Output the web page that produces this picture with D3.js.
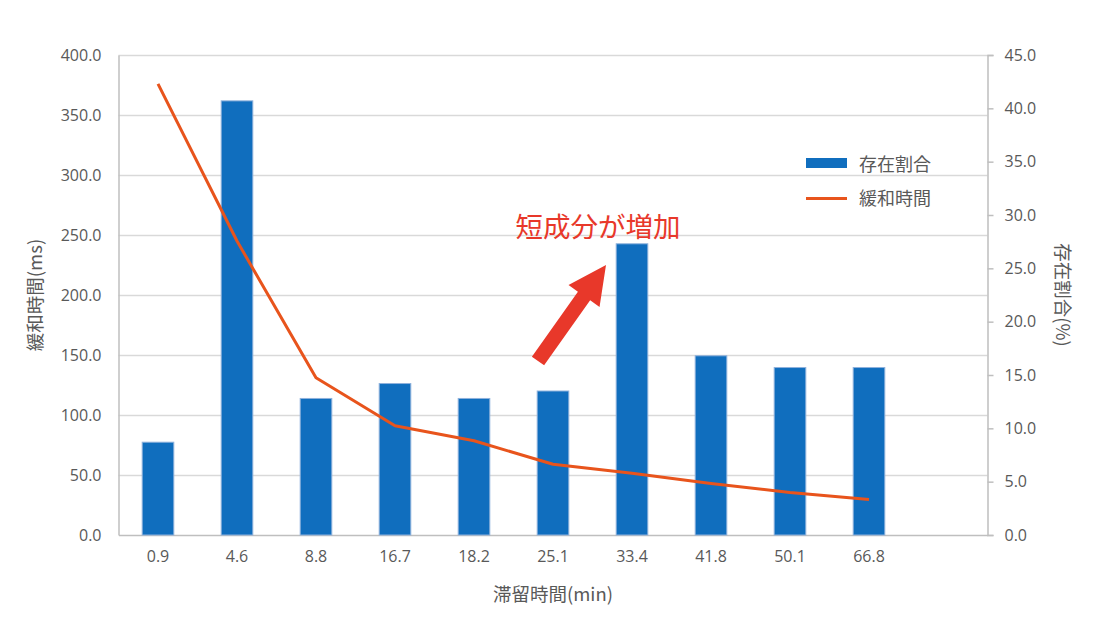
<!DOCTYPE html>
<html>
<head>
<meta charset="utf-8">
<script src="https://cdn.jsdelivr.net/npm/d3@7"></script>
<style>
  html, body { margin: 0; padding: 0; background: #fff; }
  svg { display: block; }
  text { font-family: "Noto Sans CJK JP", "Open Sans", sans-serif; fill: #595959; }
  .num { font-family: "Open Sans", "Noto Sans", sans-serif; }
</style>
</head>
<body>
<svg id="chart" width="1111" height="632"></svg>
<script>
// ---- data ----
const categories = ["0.9", "4.6", "8.8", "16.7", "18.2", "25.1", "33.4", "41.8", "50.1", "66.8"];
const ratioValues = [8.7, 40.7, 12.8, 14.2, 12.8, 13.5, 27.3, 16.8, 15.7, 15.7];   // 存在割合 (%)
const relaxValues = [376, 245, 131, 91, 78.5, 59, 51.5, 43, 35.5, 29.5];          // 緩和時間 (ms)
const leftTicks = [0, 50, 100, 150, 200, 250, 300, 350, 400];
const rightTicks = [0, 5, 10, 15, 20, 25, 30, 35, 40, 45];
const seriesNames = ["存在割合", "緩和時間"];
const xTitle = "滞留時間(min)";
const yLeftTitle = "緩和時間(ms)";
const yRightTitle = "存在割合(%)";
const annotationText = "短成分が増加";

// ---- layout ----
const svg = d3.select("#chart");
const L = 118.5, R = 987.5, T = 55, B = 535;
const slots = categories.concat(["_empty"]);

const x = d3.scaleBand().domain(slots).range([L, R]).paddingInner(0.6).paddingOuter(0.3);
const yL = d3.scaleLinear().domain([0, 400]).range([B, T]);
const yR = d3.scaleLinear().domain([0, 45]).range([B, T]);

// gridlines
svg.append("g").selectAll("line").data(leftTicks.filter(d => d > 0)).join("line")
  .attr("x1", L).attr("x2", R)
  .attr("y1", d => Math.round(yL(d)) + 0.5).attr("y2", d => Math.round(yL(d)) + 0.5)
  .attr("stroke", "#d9d9d9").attr("stroke-width", 1.5);

// left axis
const gL = svg.append("g").attr("transform", `translate(${L},0)`)
  .call(d3.axisLeft(yL).tickValues(leftTicks).tickSize(0).tickPadding(17).tickFormat(d3.format(".1f")));
gL.select(".domain").attr("stroke", "#bfbfbf").attr("stroke-width", 1.5);
gL.selectAll("text").attr("class", "num").style("font-size", "16px").style("fill", "#595959");

// right axis
const gR = svg.append("g").attr("transform", `translate(${R},0)`)
  .call(d3.axisRight(yR).tickValues(rightTicks).tickSize(6).tickPadding(11).tickFormat(d3.format(".1f")));
gR.select(".domain").attr("stroke", "#bfbfbf").attr("stroke-width", 1.5);
gR.selectAll(".tick line").attr("stroke", "#bfbfbf").attr("stroke-width", 1.5);
gR.selectAll("text").attr("class", "num").style("font-size", "16px").style("fill", "#595959");

// bottom axis
const gB = svg.append("g").attr("transform", `translate(0,${B})`)
  .call(d3.axisBottom(x).tickSize(0).tickPadding(16).tickFormat(d => d === "_empty" ? "" : d));
gB.select(".domain").attr("stroke", "#bfbfbf").attr("stroke-width", 1.5);
gB.selectAll("text").attr("class", "num").style("font-size", "16px").style("fill", "#595959");

// bars
svg.append("g").selectAll("rect").data(categories).join("rect")
  .attr("x", d => x(d))
  .attr("y", (d, i) => yR(ratioValues[i]))
  .attr("width", x.bandwidth())
  .attr("height", (d, i) => B - yR(ratioValues[i]))
  .attr("fill", "#106ebe")
  .attr("stroke", "#8eb1dc").attr("stroke-width", 1);

// line
const line = d3.line()
  .x((d, i) => x(categories[i]) + x.bandwidth() / 2)
  .y(d => yL(d));
svg.append("path").datum(relaxValues)
  .attr("d", line)
  .attr("fill", "none")
  .attr("stroke", "#e8541c").attr("stroke-width", 3)
  .attr("stroke-linejoin", "round");

// axis titles
svg.append("text").attr("x", (L + R) / 2).attr("y", 601)
  .attr("text-anchor", "middle").style("font-size", "18.5px").text(xTitle);
svg.append("text").attr("transform", `translate(42,${(T + B) / 2}) rotate(-90)`)
  .attr("text-anchor", "middle").style("font-size", "18.5px").text(yLeftTitle);
svg.append("text").attr("transform", `translate(1056,${(T + B) / 2}) rotate(90)`)
  .attr("text-anchor", "middle").style("font-size", "18.5px").text(yRightTitle);

// legend
const lg = svg.append("g");
lg.append("rect").attr("x", 806).attr("y", 158).attr("width", 41).attr("height", 10).attr("fill", "#106ebe");
lg.append("text").attr("x", 859).attr("y", 163).attr("dominant-baseline", "central")
  .style("font-size", "18px").text(seriesNames[0]);
lg.append("line").attr("x1", 806).attr("x2", 847).attr("y1", 198.5).attr("y2", 198.5)
  .attr("stroke", "#e8541c").attr("stroke-width", 3);
lg.append("text").attr("x", 859).attr("y", 197).attr("dominant-baseline", "central")
  .style("font-size", "18px").text(seriesNames[1]);

// annotation
svg.append("text").attr("x", 598).attr("y", 237).attr("text-anchor", "middle")
  .style("font-size", "27.5px").style("fill", "#e8382a").text(annotationText);

// arrow polygon
(function () {
  const tail = [538, 361], tip = [606, 265];
  const dx = tip[0] - tail[0], dy = tip[1] - tail[1];
  const len = Math.hypot(dx, dy);
  const ux = dx / len, uy = dy / len, px = -uy, py = ux;
  const sw = 7.5, hw = 19, hl = 38;
  const bx = tip[0] - ux * hl, by = tip[1] - uy * hl;
  const pts = [
    [tail[0] + px * sw, tail[1] + py * sw],
    [bx + px * sw, by + py * sw],
    [bx + px * hw, by + py * hw],
    tip,
    [bx - px * hw, by - py * hw],
    [bx - px * sw, by - py * sw],
    [tail[0] - px * sw, tail[1] - py * sw]
  ];
  svg.append("polygon").attr("points", pts.map(p => p.join(",")).join(" "))
    .attr("fill", "#e8382a");
})();
</script>
</body>
</html>
